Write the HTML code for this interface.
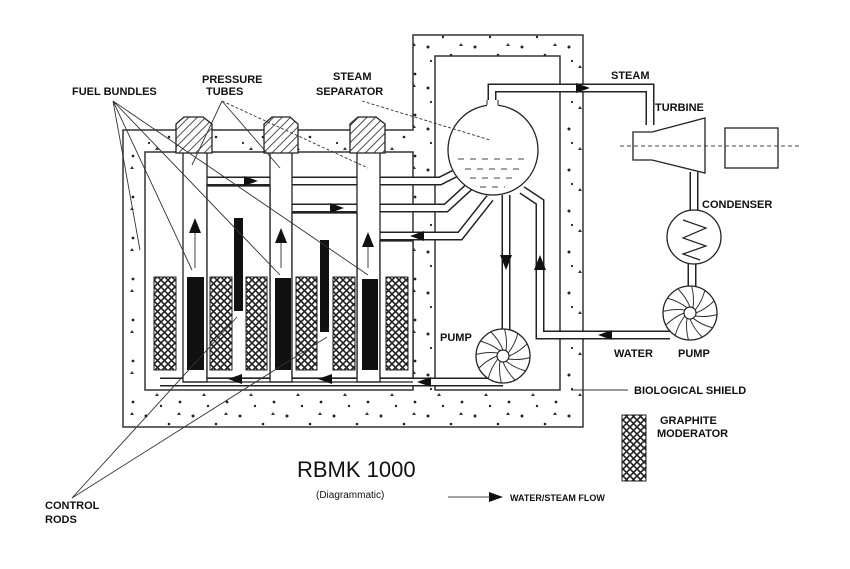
<!DOCTYPE html>
<html><head><meta charset="utf-8"><style>
html,body{margin:0;padding:0;background:#fff;}
svg{display:block;}
text{font-family:"Liberation Sans",Arial,sans-serif;font-weight:bold;font-size:11px;fill:#111;}
</style></head><body>
<svg width="850" height="569" viewBox="0 0 850 569" xmlns="http://www.w3.org/2000/svg">
<defs>
<pattern id="xh" width="7" height="7" patternUnits="userSpaceOnUse">
<rect width="7" height="7" fill="#fff"/>
<path d="M0 0L7 7M7 0L0 7" stroke="#222" stroke-width="1.6"/>
</pattern>
<pattern id="hat" width="6" height="6" patternUnits="userSpaceOnUse" patternTransform="rotate(45)">
<rect width="6" height="6" fill="#fff"/><line x1="0" y1="0" x2="0" y2="6" stroke="#222" stroke-width="1.6"/>
</pattern>
<pattern id="dots" width="47" height="41" patternUnits="userSpaceOnUse">
<rect width="47" height="41" fill="#fff"/>
<circle cx="5" cy="6" r="1.5" fill="#222"/><circle cx="28" cy="14" r="1.3" fill="#222"/>
<path d="M14 27l2 -3 2 3z" fill="#333"/><circle cx="39" cy="33" r="1.4" fill="#222"/>
<circle cx="20" cy="37" r="1.2" fill="#222"/><path d="M36 5l2 -3 2 3z" fill="#333"/>
<circle cx="8" cy="20" r="1.1" fill="#222"/>
</pattern>
<g id="pump">
<circle r="27" fill="#fff" stroke="#222" stroke-width="1.3"/>
<g fill="none" stroke="#333" stroke-width="1">
<path id="b" d="M6 0 Q16 -4 24 -12"/>
<use href="#b" transform="rotate(30)"/><use href="#b" transform="rotate(60)"/><use href="#b" transform="rotate(90)"/>
<use href="#b" transform="rotate(120)"/><use href="#b" transform="rotate(150)"/><use href="#b" transform="rotate(180)"/>
<use href="#b" transform="rotate(210)"/><use href="#b" transform="rotate(240)"/><use href="#b" transform="rotate(270)"/>
<use href="#b" transform="rotate(300)"/><use href="#b" transform="rotate(330)"/>
</g>
<circle r="6" fill="#fff" stroke="#222" stroke-width="1.2"/>
</g>
</defs>

<!-- shield -->
<path d="M123 130H413V35H583V427H123Z M145 152V390H413V152Z M435 56V390H560V56Z" fill="url(#dots)" fill-rule="evenodd" stroke="#333" stroke-width="1.5"/>

<!-- pipes (double line) -->
<g fill="none" stroke-linejoin="miter">
<g stroke="#222" stroke-width="9">
<path d="M207 181H440L458 172"/>
<path d="M292 208H446L470 186"/>
<path d="M380 236H460L490 198"/>
<path d="M492 105V88H650V125"/>
<path d="M506 195V330"/>
<path d="M522 190L540 202V335H670"/>
<path d="M503 382H160"/>
<path d="M694 172V212M692 262V290"/>
</g>
<g stroke="#fff" stroke-width="6">
<path d="M207 181H440L458 172"/>
<path d="M292 208H446L470 186"/>
<path d="M380 236H460L490 198"/>
<path d="M492 106V88H650V126"/>
<path d="M506 195V331"/>
<path d="M522 190L540 202V335H670"/>
<path d="M504 382H160"/>
<path d="M694 171V213M692 261V291"/>
</g>
</g>

<!-- pressure tubes -->
<g fill="#fff" stroke="#222" stroke-width="1.3">
<rect x="183" y="152" width="24" height="230"/>
<rect x="270" y="152" width="22" height="230"/>
<rect x="357" y="152" width="23" height="230"/>
<rect x="207" y="186" width="63" height="192"/>
<rect x="292" y="213" width="65" height="165"/>
<rect x="380" y="241" width="33" height="137"/>
</g>
<path d="M183 382H413" stroke="#222" stroke-width="1.3"/>
<!-- caps -->
<g fill="url(#hat)" stroke="#222" stroke-width="1.3">
<path d="M176 153V124L184 117H203L212 124V153Z"/>
<path d="M264 153V124L272 117H290L298 124V153Z"/>
<path d="M350 153V124L358 117H376L385 124V153Z"/>
</g>

<!-- graphite -->
<g fill="url(#xh)" stroke="#222" stroke-width="1">
<rect x="154" y="277" width="22" height="93"/><rect x="210" y="277" width="22" height="93"/>
<rect x="246" y="277" width="21" height="93"/><rect x="296" y="277" width="21" height="93"/>
<rect x="333" y="277" width="22" height="93"/><rect x="386" y="277" width="22" height="93"/>
<rect x="622" y="415" width="24" height="66"/>
</g>
<!-- fuel & rods -->
<g fill="#111">
<rect x="187" y="277" width="17" height="93"/><rect x="275" y="278" width="16" height="92"/>
<rect x="362" y="279" width="16" height="91"/>
<rect x="234" y="218" width="9" height="93"/><rect x="320" y="240" width="9" height="92"/>
</g>

<!-- flow arrows -->
<g fill="#111">
<path d="M195 218l-6 15h12z"/><path d="M281 228l-6 15h12z"/><path d="M368 232l-6 15h12z"/>
<path d="M258 181l-14 -5v10z"/><path d="M344 208l-14 -5v10z"/><path d="M410 236l14 -5v10z"/>
<path d="M228 379l14 -5v10z"/><path d="M318 379l14 -5v10z"/><path d="M417 382l14 -5v10z"/>
<path d="M506 270l-6 -15h12z"/><path d="M540 255l-6 15h12z"/>
<path d="M598 335l14 -5v10z"/><path d="M590 88l-14 -5v10z"/>
<path d="M503 497l-14 -5v10z"/>
</g>
<g stroke="#444" stroke-width="1">
<path d="M195 233V268M281 243V268M368 247V268"/>
<path d="M448 497H490"/>
</g>

<!-- separator drum -->
<circle cx="493" cy="150" r="45" fill="#fff" stroke="#222" stroke-width="1.3"/>
<rect x="487" y="100" width="11" height="12" fill="#fff"/>
<path d="M487 105V100M498 105V100" stroke="#222"/>
<g stroke="#444" stroke-width="1" stroke-dasharray="6 6">
<path d="M458 159H528M465 169H520M470 178H515M480 187H505"/>
</g>

<!-- pumps -->
<use href="#pump" x="503" y="356"/>
<use href="#pump" x="690" y="313"/>

<!-- turbine, condenser, generator -->
<path d="M633 132H652L705 118V173L652 160H633Z" fill="#fff" stroke="#222" stroke-width="1.3"/>
<circle cx="694" cy="237" r="27" fill="#fff" stroke="#222" stroke-width="1.3"/>
<path d="M683 220L706 228L683 238L706 246L683 254L700 260" fill="none" stroke="#222" stroke-width="1.2"/>
<rect x="725" y="128" width="53" height="40" fill="#fff" stroke="#222" stroke-width="1.3"/>
<path d="M620 146H800" stroke="#444" stroke-dasharray="4 3"/>

<!-- leaders -->
<g stroke="#333" stroke-width="0.9" fill="none">
<path d="M113 101L192 270M113 101L280 275M113 101L368 275M113 101L140 250"/>
<path d="M222 101L192 165M222 101L280 168"/>
<path d="M222 101L368 168" stroke-dasharray="3 2"/>
<path d="M362 101L490 140" stroke-dasharray="3 2"/>
<path d="M72 498L237 317M72 498L327 337"/>
<path d="M571 390H628"/>
</g>

<!-- labels -->
<text x="72" y="95">FUEL BUNDLES</text>
<text x="202" y="83">PRESSURE</text><text x="206" y="95">TUBES</text>
<text x="333" y="80">STEAM</text><text x="316" y="95">SEPARATOR</text>
<text x="611" y="79">STEAM</text>
<text x="655" y="111">TURBINE</text>
<text x="702" y="208">CONDENSER</text>
<text x="440" y="341">PUMP</text>
<text x="614" y="357">WATER</text>
<text x="678" y="357">PUMP</text>
<text x="634" y="394">BIOLOGICAL SHIELD</text>
<text x="660" y="424">GRAPHITE</text><text x="657" y="437">MODERATOR</text>
<text x="45" y="509">CONTROL</text><text x="45" y="523">RODS</text>
<text x="510" y="501" style="font-size:9px">WATER/STEAM FLOW</text>
<text x="297" y="477" style="font-weight:normal;font-size:22px">RBMK 1000</text>
<text x="316" y="498" style="font-weight:normal;font-size:10px">(Diagrammatic)</text>
</svg>
</body></html>
